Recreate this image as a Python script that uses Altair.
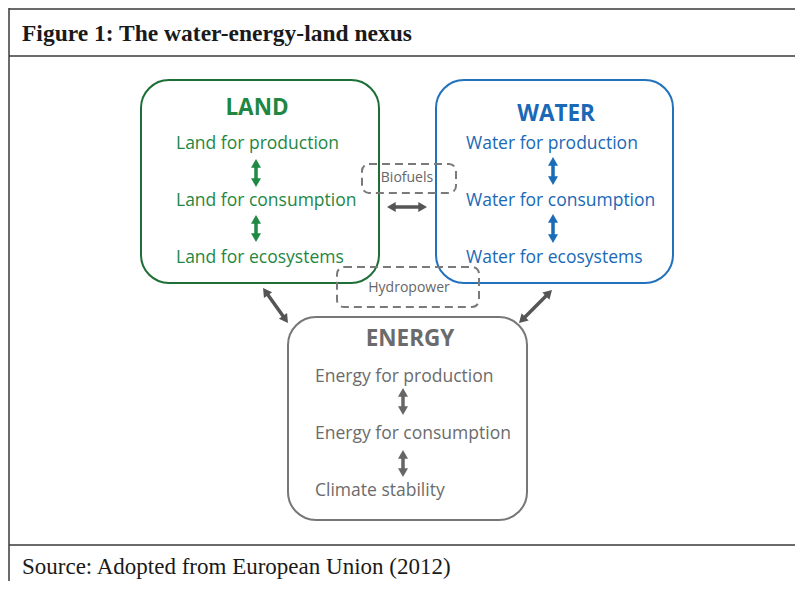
import math
import altair as alt
import pandas as pd

# ---------------- data (diagram coordinates, y grows downward) ----------------
box_names = ["LAND", "WATER", "ENERGY"]
box_left = [141, 436, 288]
box_right = [379, 673, 527]
box_top = [80, 80, 317]
box_bottom = [283, 283, 520]
box_stroke = ["#1d6e37", "#2171bd", "#777777"]
title_x = [257, 556, 410]
title_y = [108, 114, 339]
text_colors = ["#1f8743", "#1a68b6", "#6b6b6b"]

item_labels = [
    ["Land for production", "Land for consumption", "Land for ecosystems"],
    ["Water for production", "Water for consumption", "Water for ecosystems"],
    ["Energy for production", "Energy for consumption", "Climate stability"],
]
item_x = [176, 466, 315]
item_y = [[144, 201, 258], [144, 201, 258], [377, 434, 491]]

link_labels = ["Biofuels", "Hydropower"]
link_left = [362, 337]
link_right = [456, 479]
link_top = [164, 267]
link_bottom = [193, 307]
link_text_x = [407, 409]
link_text_y = [178, 288]

arrow_x1 = [256, 256, 553, 553, 403, 403, 387, 263, 552]
arrow_y1 = [159, 215, 157, 214, 388, 450, 207, 288, 290]
arrow_x2 = [256, 256, 553, 553, 403, 403, 427, 288, 519]
arrow_y2 = [187, 242, 185, 243, 415, 477, 207, 323, 323]
arrow_colors = ["#1e8a44", "#1e8a44", "#1a6bb8", "#1a6bb8",
                "#666666", "#666666", "#555555", "#555555", "#555555"]

frame_x1 = [9, 9, 9, 9]
frame_x2 = [795, 795, 795, 9]
frame_y1 = [9, 56, 545, 8]
frame_y2 = [9, 56, 545, 581]

figure_title = "Figure 1: The water-energy-land nexus"
source_text = "Source: Adopted from European Union (2012)"

# ---------------- tables ----------------
X = alt.Scale(domain=[8, 795])
Y = alt.Scale(domain=[8, 581], reverse=True)

boxes = pd.DataFrame({"name": box_names, "x0": box_left, "x1": box_right,
                      "y0": box_top, "y1": box_bottom, "stroke": box_stroke,
                      "tx": title_x, "ty": title_y, "tc": text_colors})
items = pd.DataFrame([
    {"label": lab, "x": item_x[i], "y": item_y[i][j], "c": text_colors[i]}
    for i in range(3) for j, lab in enumerate(item_labels[i])
])
links = pd.DataFrame({"label": link_labels, "x0": link_left, "x1": link_right,
                      "y0": link_top, "y1": link_bottom,
                      "tx": link_text_x, "ty": link_text_y})

HEAD_SIZE = 100
h = math.sqrt(3) / 2 * math.sqrt(HEAD_SIZE) / 2
shafts, heads = [], []
for x1, y1, x2, y2, c in zip(arrow_x1, arrow_y1, arrow_x2, arrow_y2, arrow_colors):
    dx, dy = x2 - x1, y2 - y1
    L = math.hypot(dx, dy)
    ux, uy = dx / L, dy / L
    ax, ay = x1 + ux * h, y1 + uy * h
    bx, by = x2 - ux * h, y2 - uy * h
    shafts.append({"x": ax, "y": ay, "x2": bx, "y2": by, "c": c})
    ang_end = math.degrees(math.atan2(ux, -uy)) % 360
    ang_start = (ang_end + 180) % 360
    heads.append({"x": bx, "y": by, "a": ang_end, "c": c})
    heads.append({"x": ax, "y": ay, "a": ang_start, "c": c})
shafts = pd.DataFrame(shafts)
heads = pd.DataFrame(heads)

frame = pd.DataFrame({"x": frame_x1, "x2": frame_x2, "y": frame_y1, "y2": frame_y2})
captions = pd.DataFrame({"label": [figure_title, source_text], "x": [22, 22],
                         "y": [34, 567]})

# ---------------- layers ----------------
frame_layer = alt.Chart(frame).mark_rule(color="#3a3a3a", strokeWidth=1.5).encode(
    x=alt.X("x:Q", scale=X, axis=None), x2="x2:Q",
    y=alt.Y("y:Q", scale=Y, axis=None), y2="y2:Q")

title_layer = alt.Chart(captions.iloc[[0]]).mark_text(
    font="Liberation Serif", fontWeight="bold", fontSize=23.5, align="left",
    baseline="middle", color="#1a1a1a").encode(
    x=alt.X("x:Q", scale=X, axis=None), y=alt.Y("y:Q", scale=Y, axis=None), text="label:N")

source_layer = alt.Chart(captions.iloc[[1]]).mark_text(
    font="Liberation Serif", fontSize=23, align="left",
    baseline="middle", color="#1a1a1a").encode(
    x=alt.X("x:Q", scale=X, axis=None), y=alt.Y("y:Q", scale=Y, axis=None), text="label:N")

box_layer = alt.Chart(boxes).mark_rect(fill=None, strokeWidth=2, cornerRadius=28).encode(
    x=alt.X("x0:Q", scale=X, axis=None), x2="x1:Q",
    y=alt.Y("y0:Q", scale=Y, axis=None), y2="y1:Q",
    stroke=alt.Stroke("stroke:N", scale=None))

box_title_layer = alt.Chart(boxes).mark_text(
    font="Open Sans", fontWeight="bold", fontSize=22.5, align="center", baseline="middle").encode(
    x=alt.X("tx:Q", scale=X, axis=None), y=alt.Y("ty:Q", scale=Y, axis=None),
    text="name:N", color=alt.Color("tc:N", scale=None))

item_layer = alt.Chart(items).mark_text(
    font="Open Sans", fontSize=17.5, align="left", baseline="middle").encode(
    x=alt.X("x:Q", scale=X, axis=None), y=alt.Y("y:Q", scale=Y, axis=None),
    text="label:N", color=alt.Color("c:N", scale=None))

link_box_layer = alt.Chart(links).mark_rect(
    fill=None, stroke="#7a7a7a", strokeWidth=2, strokeDash=[8, 5], cornerRadius=7).encode(
    x=alt.X("x0:Q", scale=X, axis=None), x2="x1:Q",
    y=alt.Y("y0:Q", scale=Y, axis=None), y2="y1:Q")

link_text_layer = alt.Chart(links).mark_text(
    font="Open Sans", fontSize=14, align="center", baseline="middle", color="#666666").encode(
    x=alt.X("tx:Q", scale=X, axis=None), y=alt.Y("ty:Q", scale=Y, axis=None), text="label:N")

shaft_layer = alt.Chart(shafts).mark_rule(strokeWidth=3.5).encode(
    x=alt.X("x:Q", scale=X, axis=None), x2="x2:Q",
    y=alt.Y("y:Q", scale=Y, axis=None), y2="y2:Q",
    color=alt.Color("c:N", scale=None))

head_layer = alt.Chart(heads).mark_point(
    shape="triangle-up", filled=True, opacity=1, size=HEAD_SIZE, strokeWidth=0).encode(
    x=alt.X("x:Q", scale=X, axis=None), y=alt.Y("y:Q", scale=Y, axis=None),
    angle=alt.Angle("a:Q", scale=None), color=alt.Color("c:N", scale=None))

chart = alt.layer(
    frame_layer, box_layer, link_box_layer, title_layer, source_layer,
    box_title_layer, item_layer, link_text_layer, shaft_layer, head_layer
).properties(
    width=787, height=573, padding=0, autosize=alt.AutoSizeParams(type="none"),
    background="white"
).configure_view(stroke=None)

chart.save("out.html", embed_options={"renderer": "svg", "actions": False})
